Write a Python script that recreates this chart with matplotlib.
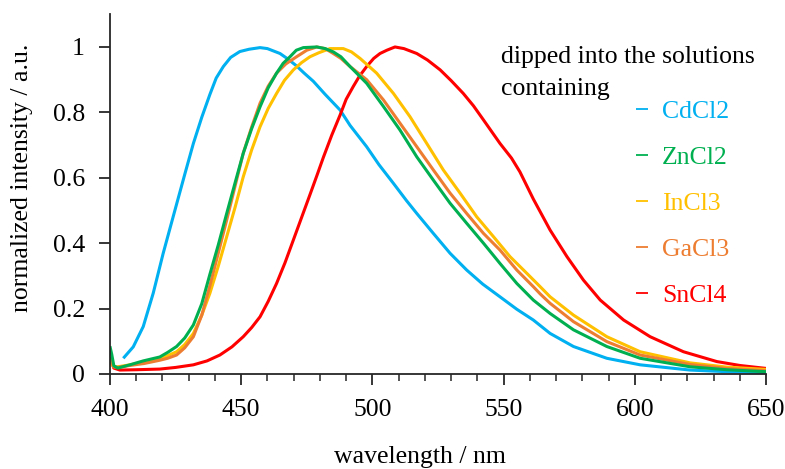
import matplotlib
matplotlib.use("Agg")
import matplotlib.pyplot as plt
from matplotlib.ticker import MultipleLocator

plt.rcParams['font.family'] = ['Liberation Serif', 'DejaVu Serif']

labels = ["CdCl2", "ZnCl2", "InCl3", "GaCl3", "SnCl4"]
colors = ["#00B0F0", "#00B050", "#FFC000", "#ED7D31", "#FF0000"]

cd_x = [405.1, 408.9, 412.7, 416.5, 420.3, 424.1, 428.5, 431.8, 435, 438.1, 440.5, 443.2, 446, 449.5, 453, 457.2, 460,
        464.8, 468, 471.1, 474, 477.5, 482, 487.7, 491.5, 497.8, 502.5, 508, 513, 517, 523.2, 529.6, 535.9, 542,
        548.6, 555, 561.3, 567.7, 576.6, 589.3, 602, 621, 635, 650]
cd_y = [0.048, 0.083, 0.145, 0.247, 0.369, 0.481, 0.61, 0.705, 0.785, 0.855, 0.905, 0.94, 0.968, 0.986, 0.993, 0.998, 0.995,
        0.98, 0.962, 0.942, 0.92, 0.895, 0.855, 0.807, 0.76, 0.695, 0.64, 0.583, 0.53, 0.49, 0.43, 0.369, 0.318, 0.275,
        0.236, 0.198, 0.165, 0.124, 0.084, 0.048, 0.028, 0.012, 0.007, 0.004]

zn_x = [400, 400.7, 401.5, 403, 407.6, 412.7, 419, 422, 425.4, 428.5, 431.8, 435, 438.1, 441.3, 444.5, 447.7, 450.8, 454,
        457.2, 460.3, 463.5, 466, 468.6, 471, 473.7, 478.8, 482, 485.1, 488, 491.5, 497.8, 504.2, 510.5, 516.9, 523.2,
        529.6, 535.9, 542.3, 548.6, 555, 561.3, 567.7, 576.6, 589.3, 602, 621, 635, 650]
zn_y = [0.085, 0.06, 0.025, 0.018, 0.028, 0.04, 0.052, 0.066, 0.084, 0.11, 0.15, 0.215, 0.305, 0.395, 0.491, 0.585, 0.675, 0.75,
        0.817, 0.875, 0.92, 0.95, 0.97, 0.99, 0.998, 1.0, 0.995, 0.985, 0.97, 0.94, 0.889, 0.818, 0.746, 0.664, 0.593,
        0.522, 0.461, 0.40, 0.338, 0.277, 0.226, 0.185, 0.135, 0.084, 0.048, 0.022, 0.013, 0.007]

in_x = [400, 400.7, 401.5, 403, 407.6, 413, 419, 422, 425.4, 428.5, 431.8, 435, 438.1, 441.3, 444.5, 447.7, 450.8, 454,
        457.2, 460.3, 463.5, 466.5, 469.9, 473, 476.2, 479.5, 483.8, 488.9, 492, 495.3, 501.6, 508, 514.3, 520.7, 527,
        533.4, 539.7, 546.1, 552.4, 558.8, 563.9, 567.7, 576.6, 589.3, 602, 621, 635, 650]
in_y = [0.04, 0.03, 0.022, 0.022, 0.028, 0.036, 0.047, 0.056, 0.068, 0.09, 0.124, 0.18, 0.247, 0.33, 0.42, 0.51, 0.603, 0.685,
        0.756, 0.812, 0.858, 0.898, 0.93, 0.952, 0.97, 0.982, 0.995, 0.995, 0.985, 0.965, 0.92, 0.858, 0.787, 0.705, 0.624,
        0.553, 0.481, 0.42, 0.359, 0.308, 0.267, 0.236, 0.18, 0.114, 0.068, 0.034, 0.021, 0.014]

ga_x = [400, 400.7, 401.5, 403, 407.6, 413, 419, 422, 425.4, 428.5, 431.8, 435, 438.1, 441.3, 444.5, 447.7, 450.8, 454,
        457.2, 460.3, 463.5, 467, 471.1, 475, 478.8, 482, 485.1, 488, 491.5, 497.8, 504.2, 510.5, 516.9, 523.2,
        529.6, 535.9, 542.3, 548.6, 555, 561.3, 563.9, 567.7, 576.6, 589.3, 602, 621, 635, 650]
ga_y = [0.05, 0.035, 0.022, 0.02, 0.026, 0.032, 0.042, 0.048, 0.058, 0.08, 0.114, 0.18, 0.27, 0.37, 0.471, 0.575, 0.675, 0.755,
        0.828, 0.88, 0.92, 0.948, 0.97, 0.99, 1.0, 0.995, 0.98, 0.965, 0.94, 0.90, 0.838, 0.767, 0.695, 0.624,
        0.553, 0.491, 0.43, 0.379, 0.318, 0.267, 0.245, 0.216, 0.16, 0.099, 0.058, 0.029, 0.017, 0.01]

sn_x = [400, 400.7, 401.5, 403.8, 410, 419, 425, 431.8, 437, 441.9, 446.5, 450.8, 454, 457.2, 460.3, 463.5, 466.7, 469.9,
        473, 476.2, 479, 481.3, 484.5, 487.7, 490, 492.7, 495, 497.8, 500.5, 502.9, 505.5, 508.6, 512, 516.9, 521, 525.8,
        530, 534.6, 538.5, 542.3, 548.6, 553, 556.2, 561.3, 567.7, 574.1, 580.4, 586.8, 595.7, 605.8, 618.5, 631.2, 640, 650]
sn_y = [0.05, 0.035, 0.018, 0.012, 0.013, 0.015, 0.02, 0.028, 0.04, 0.058, 0.083, 0.114, 0.142, 0.175, 0.222, 0.277, 0.34, 0.41,
        0.478, 0.548, 0.61, 0.662, 0.73, 0.792, 0.84, 0.879, 0.91, 0.94, 0.965, 0.98, 0.99, 1.0, 0.995, 0.98, 0.96, 0.93,
        0.897, 0.858, 0.82, 0.777, 0.705, 0.66, 0.618, 0.535, 0.44, 0.359, 0.287, 0.226, 0.165, 0.114, 0.068, 0.038, 0.026, 0.017]

series = [(cd_x, cd_y), (zn_x, zn_y), (in_x, in_y), (ga_x, ga_y), (sn_x, sn_y)]

FS = 18.5
fig = plt.figure(figsize=(7.85, 4.69), dpi=100)
ax = fig.add_axes([0.140, 0.2026, 0.836, 0.767])

draw_order = [0, 4, 2, 3, 1]
lines = {}
for i in draw_order:
    xs, ys = series[i]
    ln, = ax.plot(xs, ys, color=colors[i], lw=2.2, label=labels[i],
                  solid_joinstyle='round', solid_capstyle='butt')
    lines[i] = ln

ax.set_xlim(400, 650)
ax.set_ylim(0, 1.1)
ax.xaxis.set_major_locator(MultipleLocator(50))
ax.xaxis.set_minor_locator(MultipleLocator(10))
ax.set_yticks([0, 0.2, 0.4, 0.6, 0.8, 1.0])
ax.set_yticklabels(["0", "0.2", "0.4", "0.6", "0.8", "1"])
for s in ["top", "right"]:
    ax.spines[s].set_visible(False)
for s in ["left", "bottom"]:
    ax.spines[s].set_linewidth(1.3)
    ax.spines[s].set_color("#262626")
ax.tick_params(axis='both', which='major', direction='out', length=8, width=1.3,
               labelsize=FS, color="#262626")
ax.tick_params(axis='x', which='minor', direction='out', length=5, width=1.1, color="#262626")
ax.tick_params(axis='x', which='major', pad=10)
ax.tick_params(axis='y', which='major', pad=10)

ax.set_xlabel("wavelength / nm", fontsize=FS)
ax.xaxis.set_label_coords(0.4726, -0.200)
ax.set_ylabel("normalized intensity / a.u.", fontsize=FS)
ax.yaxis.set_label_coords(-0.117, 0.545)

ax.text(549.0, 0.951, "dipped into the solutions", fontsize=FS, va='baseline', ha='left')
ax.text(549.0, 0.853, "containing", fontsize=FS, va='baseline', ha='left')

handles = [lines[i] for i in range(5)]
leg = ax.legend(handles, labels, loc='upper left', bbox_to_anchor=(0.802, 0.761), frameon=False,
                fontsize=FS, handlelength=0.47, handletextpad=0.54, labelspacing=0.89,
                labelcolor='linecolor', borderaxespad=0, borderpad=0)
for h in leg.get_lines():
    h.set_linewidth(1.3)

fig.savefig("out.png", dpi=100)
